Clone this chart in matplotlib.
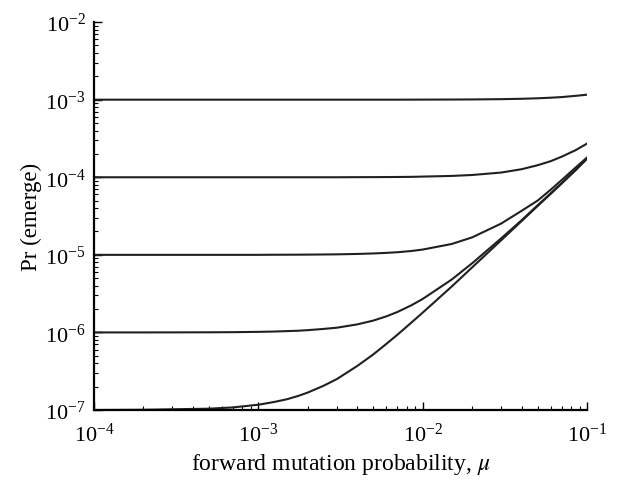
import matplotlib
matplotlib.use("Agg")
import matplotlib.pyplot as plt
from matplotlib.ticker import LogLocator, NullFormatter

plt.rcParams['font.family'] = ['Liberation Serif', 'DejaVu Serif']
plt.rcParams['mathtext.fontset'] = 'stix'

# forward mutation probability (x) and Pr(emerge) for each curve
mu = [1e-4, 2e-4, 5e-4, 7e-4, 1e-3, 1.25e-3, 1.5e-3, 1.75e-3, 2e-3, 2.5e-3, 3e-3, 4e-3, 5e-3, 6e-3, 7e-3, 8.5e-3,
      1e-2, 1.5e-2, 2e-2, 3e-2, 4e-2, 5e-2, 6e-2, 7e-2, 8.5e-2, 1e-1]

pr_a = [1.0e-3, 1.0e-3, 1.0e-3, 1.0e-3, 1.0e-3, 1.0e-3, 1.0e-3, 1.0e-3, 1.0e-3, 1.0e-3, 1.0e-3, 1.0e-3, 1.0e-3, 1.0e-3, 1.0e-3, 1.001e-3,
        1.002e-3, 1.004e-3, 1.007e-3, 1.015e-3, 1.027e-3, 1.042e-3, 1.06e-3, 1.08e-3, 1.12e-3, 1.16e-3]
pr_b = [1.0e-4, 1.0e-4, 1.0e-4, 1.0e-4, 1.0e-4, 1.0e-4, 1.0e-4, 1.0e-4, 1.0e-4, 1.0e-4, 1.0e-4, 1.003e-4, 1.004e-4, 1.006e-4, 1.008e-4, 1.012e-4,
        1.02e-4, 1.04e-4, 1.07e-4, 1.15e-4, 1.27e-4, 1.43e-4, 1.61e-4, 1.84e-4, 2.23e-4, 2.72e-4]
pr_c = [1.0e-5, 1.0e-5, 1.0e-5, 1.0e-5, 1.0e-5, 1.003e-5, 1.004e-5, 1.005e-5, 1.007e-5, 1.011e-5, 1.015e-5, 1.027e-5, 1.042e-5, 1.06e-5, 1.08e-5, 1.12e-5,
        1.17e-5, 1.38e-5, 1.68e-5, 2.53e-5, 3.7e-5, 5.0e-5, 6.9e-5, 9.2e-5, 1.33e-4, 1.8e-4]
pr_d = [1.0e-6, 1.0e-6, 1.004e-6, 1.008e-6, 1.017e-6, 1.027e-6, 1.04e-6, 1.052e-6, 1.07e-6, 1.11e-6, 1.15e-6, 1.27e-6, 1.42e-6, 1.61e-6, 1.83e-6, 2.23e-6,
        2.7e-6, 4.8e-6, 7.8e-6, 1.63e-5, 2.8e-5, 4.35e-5, 6.2e-5, 8.4e-5, 1.24e-4, 1.75e-4]
pr_e = [1.0e-7, 1.007e-7, 1.04e-7, 1.08e-7, 1.17e-7, 1.27e-7, 1.38e-7, 1.52e-7, 1.68e-7, 2.06e-7, 2.5e-7, 3.7e-7, 5.2e-7, 7.1e-7, 9.3e-7, 1.33e-6,
        1.8e-6, 3.9e-6, 6.9e-6, 1.54e-5, 2.73e-5, 4.26e-5, 6.1e-5, 8.3e-5, 1.23e-4, 1.74e-4]

fig = plt.figure(figsize=(6.18, 4.81), dpi=100)
ax = fig.add_axes([0.152, 0.1455, 0.798, 0.8065])

for pr in [pr_a, pr_b, pr_c, pr_d, pr_e]:
    ax.plot(mu, pr, color='#231f20', lw=1.5)

ax.set_xscale('log')
ax.set_yscale('log')
ax.set_xlim(1e-4, 1e-1)
ax.set_ylim(1e-7, 1e-2)

ax.spines['top'].set_visible(False)
ax.spines['right'].set_visible(False)
ax.spines['left'].set_linewidth(1.6)
ax.spines['bottom'].set_linewidth(1.6)

ax.xaxis.set_major_locator(LogLocator(base=10, numticks=10))
ax.yaxis.set_major_locator(LogLocator(base=10, numticks=10))
ax.xaxis.set_minor_locator(LogLocator(base=10, subs=range(2, 10), numticks=20))
ax.yaxis.set_minor_locator(LogLocator(base=10, subs=range(2, 10), numticks=20))
ax.xaxis.set_minor_formatter(NullFormatter())
ax.yaxis.set_minor_formatter(NullFormatter())

ax.tick_params(which='major', direction='in', length=6, width=1.0, labelsize=16)
ax.tick_params(axis='x', which='major', pad=9)
ax.tick_params(axis='y', which='major', pad=6)
ax.tick_params(which='minor', direction='in', length=3, width=0.8)

ax.set_xlabel(r'forward mutation probability, $\mu$', fontsize=17, labelpad=4)
ax.set_ylabel('Pr (emerge)', fontsize=16.5, labelpad=2)

fig.savefig('out.png', dpi=100)
